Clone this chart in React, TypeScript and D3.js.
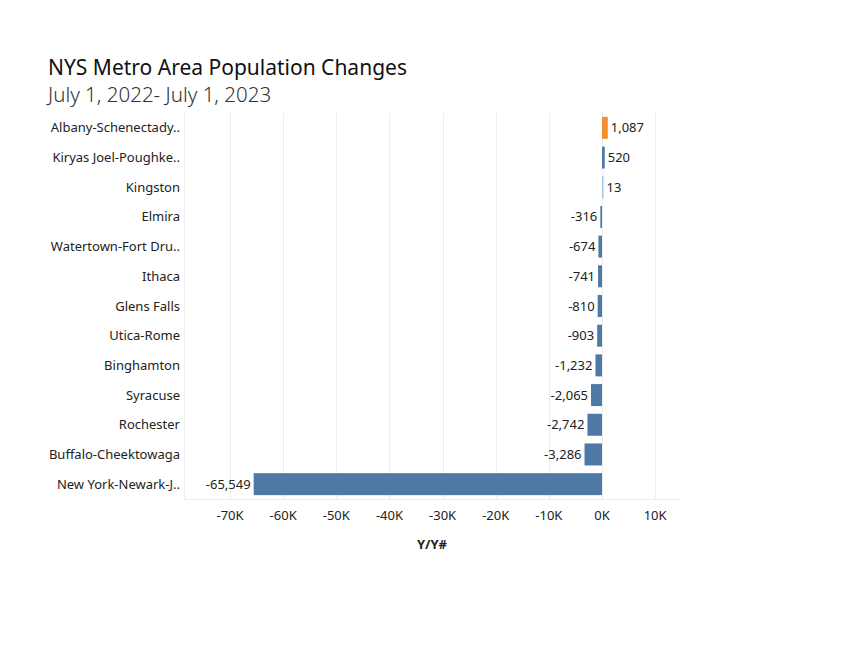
import React from "react";
import * as d3 from "d3";

const metros = [
  "Albany-Schenectady..",
  "Kiryas Joel-Poughke..",
  "Kingston",
  "Elmira",
  "Watertown-Fort Dru..",
  "Ithaca",
  "Glens Falls",
  "Utica-Rome",
  "Binghamton",
  "Syracuse",
  "Rochester",
  "Buffalo-Cheektowaga",
  "New York-Newark-J..",
];
const changes = [1087, 520, 13, -316, -674, -741, -810, -903, -1232, -2065, -2742, -3286, -65549];
const barColors = [
  "#f28e2b", "#4e79a7", "#a0c4e6", "#4e79a7", "#4e79a7", "#4e79a7", "#4e79a7",
  "#4e79a7", "#4e79a7", "#4e79a7", "#4e79a7", "#4e79a7", "#4e79a7",
];
const xTicks = [-70000, -60000, -50000, -40000, -30000, -20000, -10000, 0, 10000];

const font = "'Noto Sans', 'Open Sans', sans-serif";

export default function App() {
  const width = 854;
  const height = 660;
  const plot = { left: 184, right: 680, top: 113, bottom: 499 };

  const x = d3
    .scaleLinear()
    .domain([-78660, 14680])
    .range([plot.left, plot.right]);

  const y = d3
    .scaleBand()
    .domain(metros)
    .range([plot.top, plot.bottom])
    .paddingInner(0.26)
    .paddingOuter(0.13);

  // tableau uses a plain hyphen for negatives
  const fmt = (v: number) => d3.format(",")(v).replace("\u2212", "-");
  const tickFmt = (v: number) => `${v / 1000}K`.replace("\u2212", "-");

  return (
    <svg
      width={width}
      height={height}
      style={{ position: "absolute", left: 0, top: 0, background: "#fff" }}
      fontFamily={font}
    >
      <text x={48} y={75} fontSize={21} fill="#111">
        NYS Metro Area Population Changes
      </text>
      <text x={48} y={102} fontSize={20.5} fill="#333" fontWeight={300}>
        July 1, 2022- July 1, 2023
      </text>

      {/* gridlines */}
      <g stroke="#ececec" strokeWidth={1}>
        <line x1={plot.left + 0.5} x2={plot.left + 0.5} y1={plot.top} y2={plot.bottom} />
        {xTicks.map((t) => (
          <line
            key={t}
            x1={Math.round(x(t)) + 0.5}
            x2={Math.round(x(t)) + 0.5}
            y1={plot.top}
            y2={plot.bottom}
          />
        ))}
        <line x1={plot.left} x2={plot.right} y1={plot.bottom + 0.5} y2={plot.bottom + 0.5} />
      </g>

      {/* bars */}
      <g>
        {metros.map((m, i) => {
          const v = changes[i];
          const w = Math.abs(x(v) - x(0));
          return (
            <rect
              key={m}
              x={v < 0 ? x(v) : x(0)}
              y={y(m)}
              width={v < 0 ? w : Math.max(1.5, w)}
              height={y.bandwidth()}
              fill={barColors[i]}
            />
          );
        })}
      </g>

      {/* value labels */}
      <g fontSize={13} fill="#222">
        {metros.map((m, i) => {
          const v = changes[i];
          const pos = v >= 0;
          const xEnd = pos ? Math.max(x(v), x(0) + 1.5) : x(v);
          return (
            <text
              key={m}
              x={pos ? xEnd + 3 : xEnd - 3}
              y={(y(m) as number) + y.bandwidth() / 2}
              dy="0.35em"
              textAnchor={pos ? "start" : "end"}
            >
              {fmt(v)}
            </text>
          );
        })}
      </g>

      {/* category labels */}
      <g fontSize={13} fill="#222" textAnchor="end">
        {metros.map((m) => (
          <text key={m} x={180} y={(y(m) as number) + y.bandwidth() / 2} dy="0.35em">
            {m}
          </text>
        ))}
      </g>

      {/* x axis */}
      <g fontSize={13} fill="#222" textAnchor="middle">
        {xTicks.map((t) => (
          <text key={t} x={x(t)} y={520}>
            {tickFmt(t)}
          </text>
        ))}
      </g>
      <text
        x={(plot.left + plot.right) / 2}
        y={549}
        fontSize={13}
        fontWeight="bold"
        fill="#222"
        textAnchor="middle"
      >
        Y/Y#
      </text>
    </svg>
  );
}
